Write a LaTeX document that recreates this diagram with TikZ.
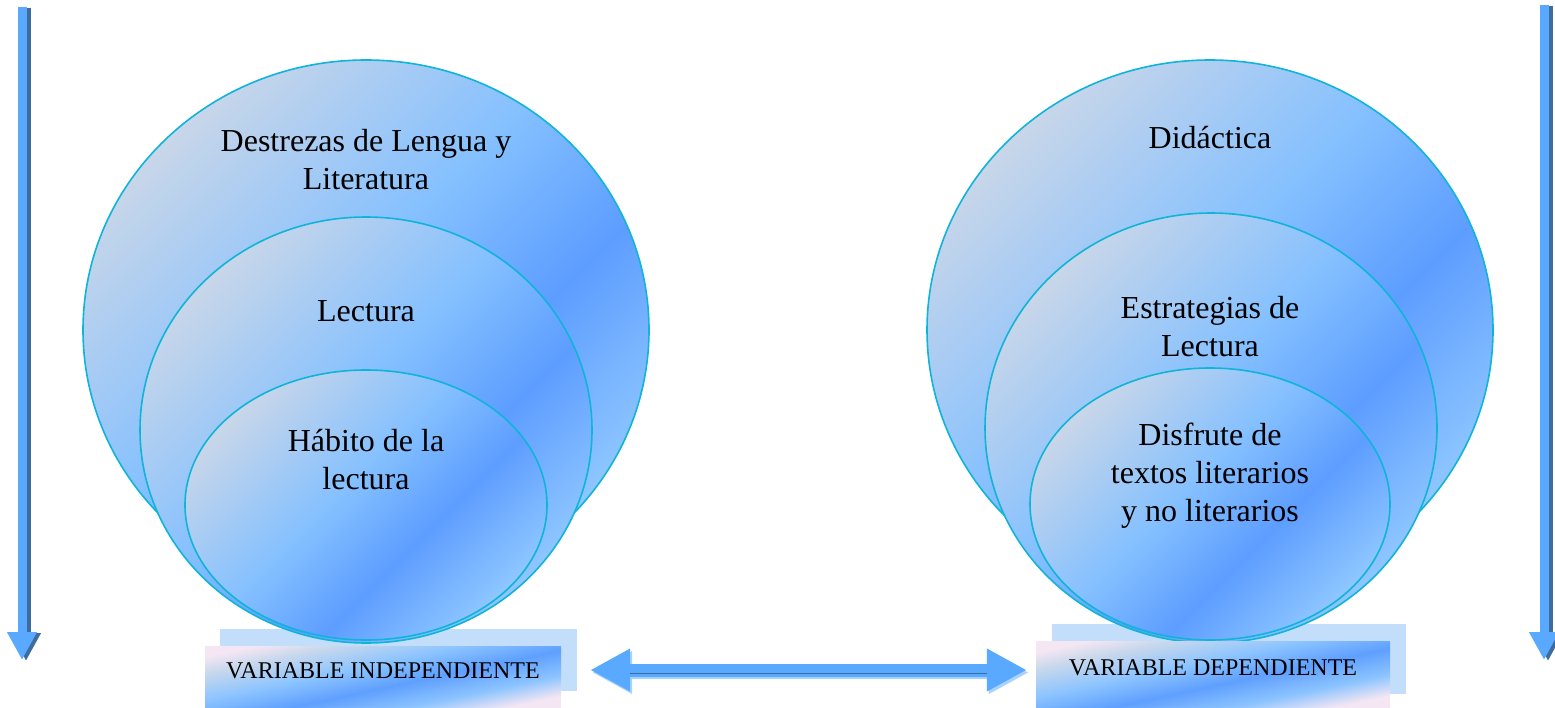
\documentclass[tikz,border=0pt]{standalone}
\usepackage{fontspec}
\setmainfont{Liberation Serif}
\usetikzlibrary{shapes.geometric,arrows.meta}

\definecolor{rim}{HTML}{10B4D8}
\definecolor{gA}{HTML}{8EC6FF}
\definecolor{gB}{HTML}{5D9DFF}
\definecolor{gC}{HTML}{84C0FF}
\definecolor{gD}{HTML}{C8D6E9}
\definecolor{pA}{HTML}{F4E6F3}
\definecolor{pB}{HTML}{8CC4FF}
\definecolor{pC}{HTML}{5F9FFF}
\definecolor{pD}{HTML}{C9D8EC}
\definecolor{backc}{HTML}{C2DEFB}
\definecolor{arrowc}{HTML}{58A9FF}
\definecolor{shadowc}{HTML}{3E6C9C}
\definecolor{fringec}{HTML}{A8D2FF}

% bands of the circles and of the labels
\pgfdeclareverticalshading{glossy}{100bp}{color(0bp)=(gA); color(25bp)=(gA);
  color(40bp)=(gB); color(54bp)=(gC); color(75bp)=(gD); color(100bp)=(gD)}
\pgfdeclareverticalshading{boxy}{100bp}{color(0bp)=(pA); color(25bp)=(pA);
  color(34bp)=(pB); color(45bp)=(pC); color(56bp)=(pB); color(68bp)=(pD); color(75bp)=(pA); color(100bp)=(pA)}

\begin{document}
\begin{tikzpicture}[x=1pt, y=-1pt,
    E/.style = {ellipse, draw=rim, line width=1.6pt, inner sep=0pt,
                shade, shading=glossy, shading angle=45},
    T/.style = {align=center, font=\fontsize{32}{38}\selectfont},
    K/.style = {rectangle, inner sep=0pt, fill=backc},% box behind the label
    F/.style = {rectangle, inner sep=0pt, shade, shading=boxy, shading angle=12,
                font=\fontsize{24}{28}\selectfont, text height=16pt},
    V/.style = {line width=9pt, arrowc, -{Triangle[width=28pt,length=28pt]}},
    D/.style = {line width=13pt, arrowc,
                {Triangle[width=40pt,length=40pt]}-{Triangle[width=40pt,length=40pt]}},
                        ]
\useasboundingbox (0,0) rectangle (1555,707);

% arrows at the sides
\coordinate (lTop) at (22,7);   \coordinate (lBot) at (22,660);
\coordinate (rTop) at (1544,5); \coordinate (rBot) at (1544,660);
\draw[V, shadowc] ([shift={(4,1)}]lTop) -- ([shift={(4,1)}]lBot);
\draw[V] (lTop) -- (lBot);
\draw[V, shadowc] ([shift={(4,1)}]rTop) -- ([shift={(4,1)}]rBot);
\draw[V] (rTop) -- (rBot);

% boxes behind
\node[K, minimum width=357pt, minimum height=62pt] (indepB) at (398.5,660) {};
\node[K, minimum width=354pt, minimum height=70pt] (depB) at (1229,659) {};

% left
\node[E, minimum width=566pt, minimum height=540pt] (bigL) at (366,330) {};
\node[E, minimum width=452pt, minimum height=426pt] (midL) at (366,430) {};
\node[E, minimum width=362pt, minimum height=270pt] (inL) at (366,505) {};
\node[T] (tBigL) at (366,160) {Destrezas de Lengua y\\ Literatura};
\node[T] (tMidL) at (366,311) {Lectura};
\node[T] (tInL) at (366,460) {Hábito de la\\ lectura};

% right
\node[E, minimum width=566pt, minimum height=540pt] (bigR) at (1210,330) {};
\node[E, minimum width=452pt, minimum height=430pt] (midR) at (1211,428) {};
\node[E, minimum width=360pt, minimum height=272pt] (inR) at (1210,504) {};
\node[T] (tBigR) at (1210,138) {Didáctica};
\node[T] (tMidR) at (1210,327) {Estrategias de\\ Lectura};
\node[T] (tInR) at (1210,476) {Disfrute de\\ textos literarios\\ y no literarios};

% labels
\node[F, minimum width=356pt, minimum height=61pt, text depth=13pt] (indep) at (383,676.5) {VARIABLE INDEPENDIENTE};
\node[F, minimum width=354pt, minimum height=66pt, text depth=14pt] (dep) at (1213,674) {VARIABLE DEPENDIENTE};

\draw[D, fringec, shorten <=31pt, shorten >=7pt] ([yshift=4]indep.east) -- ([yshift=1.5]dep.west);
\draw[D, shorten <=29pt, shorten >=9pt] ([yshift=6.5]indep.east) -- ([yshift=4]dep.west);
\draw[shadowc, line width=1.2pt, shorten <=69pt, shorten >=49pt] ([yshift=3]indep.east) -- ([yshift=0.5]dep.west);
\end{tikzpicture}
\end{document}
